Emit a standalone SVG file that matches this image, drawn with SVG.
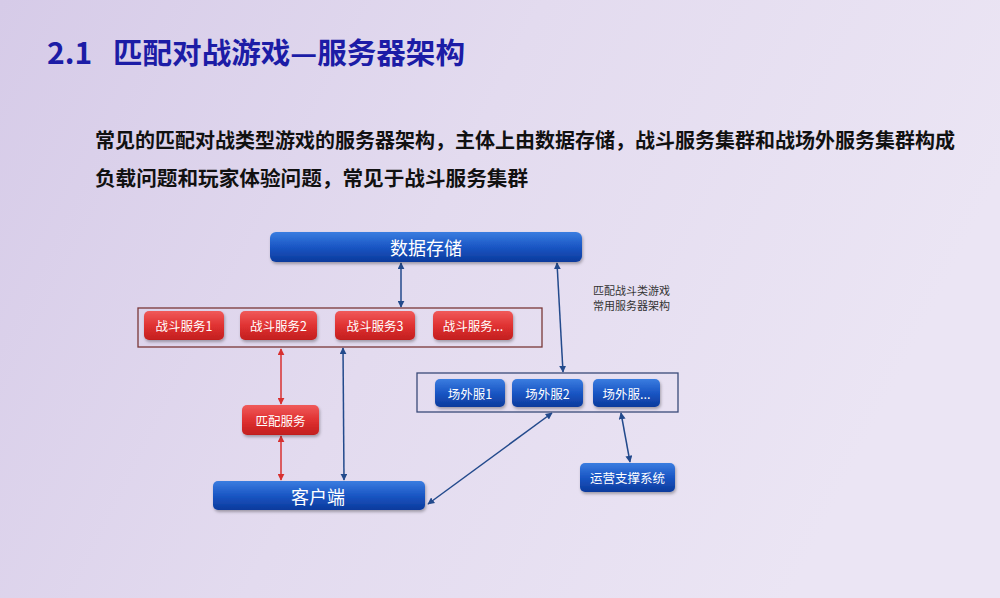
<svg xmlns="http://www.w3.org/2000/svg" width="1000" height="598" viewBox="0 0 1000 598">
<defs>
<linearGradient id="bg" x1="0" y1="0" x2="1" y2="0.3">
<stop offset="0" stop-color="#d6cbe8"/>
<stop offset="0.5" stop-color="#e3dbef"/>
<stop offset="1" stop-color="#ebe5f4"/>
</linearGradient>
<linearGradient id="blue" x1="0" y1="0" x2="0" y2="1">
<stop offset="0" stop-color="#3a7de0"/>
<stop offset="0.5" stop-color="#1a56c4"/>
<stop offset="1" stop-color="#0c3a9c"/>
</linearGradient>
<linearGradient id="red" x1="0" y1="0" x2="0" y2="1">
<stop offset="0" stop-color="#f05a5a"/>
<stop offset="0.5" stop-color="#e03232"/>
<stop offset="1" stop-color="#c21e1e"/>
</linearGradient>
<filter id="sh" x="-10%" y="-20%" width="120%" height="150%">
<feDropShadow dx="1" dy="2" stdDeviation="1.5" flood-color="#000" flood-opacity="0.3"/>
</filter>
<marker id="ab" viewBox="0 0 10 10" refX="9" refY="5" markerWidth="7" markerHeight="7" orient="auto-start-reverse" markerUnits="userSpaceOnUse">
<path d="M0,0 L10,5 L0,10 z" fill="#234a8c"/>
</marker>
<marker id="ar" viewBox="0 0 10 10" refX="9" refY="5" markerWidth="7" markerHeight="7" orient="auto-start-reverse" markerUnits="userSpaceOnUse">
<path d="M0,0 L10,5 L0,10 z" fill="#d83030"/>
</marker>
</defs>
<style>
.cjk{font-family:"Noto Sans CJK SC","Noto Sans",sans-serif}
.title{font-size:29px;font-weight:700;fill:#1c1ca6}
.body{font-size:20px;font-weight:700;fill:#111}
.lbl{fill:#fff;text-anchor:middle;dominant-baseline:central}
.s{font-size:12.5px}
.b{fill:url(#blue)}
.r{fill:url(#red)}
.cb{stroke:#234a8c;stroke-width:1.5;fill:none;marker-start:url(#ab);marker-end:url(#ab)}
.cr{stroke:#d83030;stroke-width:1.5;fill:none;marker-start:url(#ar);marker-end:url(#ar)}
.note{font-size:11px;fill:#333}
</style>
<rect width="1000" height="598" fill="url(#bg)"/>
<text class="cjk title" x="47" y="64"><tspan font-size="30">2.1</tspan><tspan x="113" textLength="352" lengthAdjust="spacingAndGlyphs">匹配对战游戏—服务器架构</tspan></text>
<text class="cjk body" x="95" y="148" textLength="860" lengthAdjust="spacingAndGlyphs">常见的匹配对战类型游戏的服务器架构，主体上由数据存储，战斗服务集群和战场外服务集群构成</text>
<text class="cjk body" x="95" y="186" textLength="433" lengthAdjust="spacingAndGlyphs">负载问题和玩家体验问题，常见于战斗服务集群</text>

<g id="connectors">
<line class="cb" x1="401" y1="263" x2="401" y2="307"/>
<line class="cb" x1="557" y1="263" x2="563" y2="372"/>
<line class="cr" x1="281" y1="349" x2="281" y2="404"/>
<line class="cr" x1="281" y1="436" x2="281" y2="480"/>
<line class="cb" x1="343" y1="348" x2="344" y2="480"/>
<line class="cb" x1="428" y1="504" x2="552" y2="413"/>
<line class="cb" x1="621" y1="413" x2="630" y2="462"/>
</g>

<g id="n-storage">
<rect class="b" x="270" y="232" width="312" height="30" rx="6" filter="url(#sh)"/>
<text class="cjk lbl" x="426" y="247" font-size="18">数据存储</text>
</g>

<g id="battle-cluster">
<rect x="138" y="308" width="404" height="39" fill="none" stroke="#7a3838" stroke-width="1.3"/>
</g>
<g id="n-battle1">
<rect class="r" x="144" y="311" width="80" height="29" rx="5" filter="url(#sh)"/>
<text class="cjk lbl s" x="184" y="325.5">战斗服务1</text>
</g>
<g id="n-battle2">
<rect class="r" x="240" y="311" width="77" height="29" rx="5" filter="url(#sh)"/>
<text class="cjk lbl s" x="278.5" y="325.5">战斗服务2</text>
</g>
<g id="n-battle3">
<rect class="r" x="335" y="311" width="80" height="29" rx="5" filter="url(#sh)"/>
<text class="cjk lbl s" x="375" y="325.5">战斗服务3</text>
</g>
<g id="n-battle4">
<rect class="r" x="433" y="311" width="80" height="29" rx="5" filter="url(#sh)"/>
<text class="cjk lbl s" x="473" y="325.5">战斗服务...</text>
</g>

<g id="outer-cluster">
<rect x="417" y="373" width="261" height="39" fill="none" stroke="#3a4a78" stroke-width="1.3"/>
</g>
<g id="n-outer1">
<rect class="b" x="435" y="379" width="70" height="28" rx="5" filter="url(#sh)"/>
<text class="cjk lbl s" x="470" y="393">场外服1</text>
</g>
<g id="n-outer2">
<rect class="b" x="512" y="379" width="71" height="28" rx="5" filter="url(#sh)"/>
<text class="cjk lbl s" x="547.5" y="393">场外服2</text>
</g>
<g id="n-outer3">
<rect class="b" x="593" y="379" width="67" height="28" rx="5" filter="url(#sh)"/>
<text class="cjk lbl s" x="626.5" y="393">场外服...</text>
</g>

<g id="n-match">
<rect class="r" x="242" y="405" width="77" height="30" rx="5" filter="url(#sh)"/>
<text class="cjk lbl s" x="280.5" y="420">匹配服务</text>
</g>

<g id="n-client">
<rect class="b" x="213" y="481" width="212" height="29" rx="5" filter="url(#sh)"/>
<text class="cjk lbl" x="318" y="495.5" font-size="18">客户端</text>
</g>

<g id="n-ops">
<rect class="b" x="580" y="463" width="95" height="29" rx="5" filter="url(#sh)"/>
<text class="cjk lbl s" x="627.5" y="477.5">运营支撑系统</text>
</g>

<g id="note">
<text class="cjk note" x="593" y="295">匹配战斗类游戏</text>
<text class="cjk note" x="593" y="310">常用服务器架构</text>
</g>
</svg>
